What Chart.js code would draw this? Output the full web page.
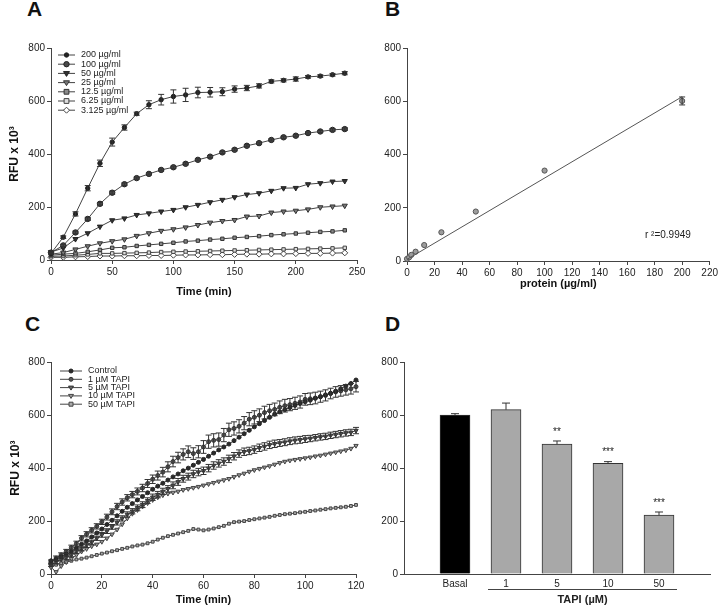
<!DOCTYPE html>
<html>
<head>
<meta charset="utf-8">
<script src="https://cdn.jsdelivr.net/npm/chart.js@4.4.0/dist/chart.umd.min.js"></script>
<style>
  html, body { margin: 0; padding: 0; background: #fff; width: 720px; height: 608px; overflow: hidden; }
  canvas { position: absolute; left: 0; top: 0; }
  .tag { position: absolute; font: bold 21px "Liberation Sans", Arial, sans-serif; color: #111; }
</style>
</head>
<body>
<div class="tag" style="left:27px;top:-3px">A</div>
<div class="tag" style="left:385px;top:-3px">B</div>
<div class="tag" style="left:25px;top:312px">C</div>
<div class="tag" style="left:385px;top:312px">D</div>
<canvas id="panelA" width="720" height="608"></canvas>
<canvas id="panelB" width="720" height="608"></canvas>
<canvas id="panelC" width="720" height="608"></canvas>
<canvas id="panelD" width="720" height="608"></canvas>
<script>
// ---- panel A: fluorescence vs time for each protein concentration
const timeA = [0, 10, 20, 30, 40, 50, 60, 70, 80, 90, 100, 110, 120, 130, 140, 150, 160, 170, 180, 190, 200, 210, 220, 230, 240];
const conc200 = [25, 86, 174, 271, 365, 445, 500, 552, 586, 605, 617, 623, 632, 633, 635, 645, 649, 657, 674, 678, 683, 691, 694, 699, 705];
const err200 = [3, 5, 8, 10, 12, 15, 10, 6, 15, 20, 25, 25, 20, 18, 15, 12, 10, 8, 6, 6, 8, 5, 5, 5, 6];
const conc100 = [28, 55, 104, 155, 212, 254, 286, 309, 325, 340, 350, 363, 378, 390, 406, 416, 431, 441, 453, 463, 469, 479, 485, 491, 494];
const err100 = [3, 4, 5, 6, 5, 6, 5, 4, 4, 4, 4, 4, 4, 4, 4, 4, 4, 4, 4, 4, 4, 4, 4, 5, 5];
const conc50 = [30, 45, 79, 101, 126, 150, 157, 170, 176, 183, 189, 199, 208, 218, 227, 237, 247, 252, 261, 271, 272, 286, 290, 296, 298];
const conc25 = [22, 28, 40, 52, 63, 71, 78, 91, 101, 110, 116, 123, 132, 141, 147, 151, 164, 166, 179, 183, 186, 191, 199, 202, 205];
const conc12 = [18, 22, 25, 31, 38, 46, 48, 53, 57, 61, 65, 70, 73, 77, 80, 84, 87, 90, 94, 97, 100, 103, 106, 108, 112];
const conc6 = [14, 15, 18, 21, 25, 25, 26, 27, 28, 30, 31, 32, 33, 34, 35, 36, 37, 38, 39, 40, 41, 42, 43, 44, 46];
const conc3 = [10, 10, 12, 13, 15, 15, 16, 16, 17, 17, 18, 19, 19, 20, 20, 21, 22, 22, 23, 23, 24, 25, 25, 26, 27];

// ---- panel B: standard curve
const protX = [0, 1.5625, 3.125, 6.25, 12.5, 25, 50, 100, 200];
const protY = [8, 14, 23, 35, 60, 108, 186, 340, 602];
const protErr = [0, 0, 0, 0, 0, 0, 0, 0, 15];
const fitX = [0, 200];
const fitY = [6, 618];

// ---- panel C: TAPI time course
const timeC = [0, 2, 4, 6, 8, 10, 12, 14, 16, 18, 20, 22, 24, 26, 28, 30, 32, 34, 36, 38, 40, 42, 44, 46, 48, 50, 52, 54, 56, 58, 60, 62, 64, 66, 68, 70, 72, 74, 76, 78, 80, 82, 84, 86, 88, 90, 92, 94, 96, 98, 100, 102, 104, 106, 108, 110, 112, 114, 116, 118, 120];
const ctrlC = [50, 55, 65, 75, 85, 98, 112, 125, 140, 155, 170, 187, 203, 220, 237, 252, 266, 280, 293, 307, 320, 332, 343, 355, 367, 378, 390, 400, 411, 422, 433, 445, 457, 469, 480, 491, 504, 517, 530, 543, 556, 568, 580, 592, 604, 613, 621, 629, 637, 644, 651, 657, 664, 670, 677, 683, 691, 700, 710, 720, 733];
const tapi1 = [45, 60, 72, 85, 100, 115, 135, 150, 165, 180, 197, 215, 235, 255, 272, 288, 300, 312, 325, 342, 358, 372, 385, 405, 425, 440, 452, 462, 455, 462, 480, 500, 505, 508, 525, 545, 550, 558, 570, 585, 592, 600, 610, 617, 622, 630, 636, 640, 645, 650, 660, 662, 665, 670, 675, 682, 688, 692, 696, 700, 708];
const err1 = [8, 8, 8, 8, 9, 9, 10, 10, 10, 10, 10, 11, 11, 12, 12, 12, 12, 13, 14, 15, 16, 17, 18, 19, 20, 20, 21, 22, 22, 23, 24, 25, 25, 25, 25, 25, 25, 25, 25, 25, 25, 24, 24, 24, 24, 24, 24, 23, 23, 23, 22, 22, 22, 21, 21, 20, 20, 20, 20, 20, 20];
const tapi5 = [35, 45, 55, 62, 72, 85, 95, 108, 120, 135, 148, 162, 178, 195, 210, 225, 237, 250, 262, 277, 290, 300, 312, 322, 335, 348, 360, 368, 378, 385, 390, 400, 410, 418, 425, 435, 445, 455, 462, 465, 470, 477, 482, 488, 492, 495, 498, 502, 505, 507, 510, 512, 515, 518, 520, 524, 527, 530, 533, 535, 542];
const err5 = [6, 6, 6, 7, 7, 7, 8, 8, 8, 8, 9, 9, 9, 10, 10, 10, 10, 11, 11, 11, 12, 12, 12, 12, 13, 13, 13, 13, 14, 14, 14, 14, 14, 14, 14, 14, 14, 14, 14, 14, 14, 14, 14, 14, 14, 13, 13, 13, 13, 13, 13, 12, 12, 12, 12, 12, 12, 12, 12, 12, 12];
const tapi10 = [25, 8, 30, 45, 58, 72, 85, 95, 105, 112, 122, 135, 150, 168, 188, 210, 228, 242, 255, 268, 280, 290, 298, 304, 308, 312, 318, 322, 326, 330, 335, 340, 345, 350, 355, 360, 367, 374, 380, 387, 393, 398, 403, 408, 414, 420, 425, 429, 432, 435, 438, 441, 445, 448, 452, 456, 460, 464, 468, 474, 485];
const tapi50 = [30, 35, 40, 45, 50, 55, 58, 62, 67, 72, 77, 81, 86, 90, 95, 99, 104, 108, 111, 116, 122, 130, 137, 143, 148, 153, 158, 163, 170, 168, 165, 168, 172, 177, 182, 190, 196, 198, 200, 204, 207, 210, 213, 216, 220, 223, 226, 228, 230, 233, 235, 238, 240, 243, 245, 248, 250, 252, 254, 257, 261];

// ---- panel D: end point bars
const tapiLabels = ['Basal', '1', '5', '10', '50'];
const tapiMeans = [600, 620, 490, 418, 222];
const tapiErr = [5, 25, 12, 6, 12];
const tapiStars = ['', '', '**', '***', '***'];

const FONT = '"Liberation Sans", Arial, sans-serif';
Chart.defaults.font.family = FONT;
Chart.defaults.color = '#222';

const xy = (xs, ys) => xs.map((x, i) => ({ x: x, y: ys[i] }));

// draws one marker, used by the hand made legends
function marker(ctx, style, x, y, r, fill, stroke) {
  ctx.beginPath();
  if (style === 'circle') {
    ctx.arc(x, y, r, 0, Math.PI * 2);
  } else if (style === 'down') {
    ctx.moveTo(x - r, y - r * 0.6);
    ctx.lineTo(x + r, y - r * 0.6);
    ctx.lineTo(x, y + r);
    ctx.closePath();
  } else if (style === 'rect') {
    ctx.rect(x - r, y - r, r * 2, r * 2);
  } else if (style === 'diamond') {
    ctx.moveTo(x, y - r); ctx.lineTo(x + r, y); ctx.lineTo(x, y + r); ctx.lineTo(x - r, y);
    ctx.closePath();
  }
  ctx.fillStyle = fill;
  ctx.fill();
  ctx.strokeStyle = stroke;
  ctx.lineWidth = 1;
  ctx.stroke();
}

const errorBars = {
  id: 'errorBars',
  afterDatasetsDraw(chart) {
    const ctx = chart.ctx;
    chart.data.datasets.forEach((ds, i) => {
      if (!ds.errors) return;
      const meta = chart.getDatasetMeta(i);
      const ys = chart.scales[meta.yAxisID];
      ctx.save();
      ctx.strokeStyle = '#333';
      ctx.lineWidth = 1;
      meta.data.forEach((el, j) => {
        const e = ds.errors[j];
        if (!e) return;
        const v = ys.getValueForPixel(el.y);
        const top = ys.getPixelForValue(v + e);
        const bot = ds.errorUp ? el.y : ys.getPixelForValue(v - e);
        const w = ds.capWidth || 3;
        ctx.beginPath();
        ctx.moveTo(el.x, top); ctx.lineTo(el.x, bot);
        ctx.moveTo(el.x - w, top); ctx.lineTo(el.x + w, top);
        if (!ds.errorUp) { ctx.moveTo(el.x - w, bot); ctx.lineTo(el.x + w, bot); }
        ctx.stroke();
      });
      ctx.restore();
    });
  }
};
Chart.register(errorBars);

function lineLegend(x0, y0, step, len, fontSize) {
  return {
    id: 'lineLegend',
    afterDraw(chart) {
      const ctx = chart.ctx;
      ctx.save();
      let row = 0;
      chart.data.datasets.forEach(ds => {
        if (!ds.legendStyle) return;
        const y = y0 + row * step;
        ctx.strokeStyle = '#444';
        ctx.lineWidth = 1;
        ctx.beginPath();
        ctx.moveTo(x0, y); ctx.lineTo(x0 + len, y);
        ctx.stroke();
        marker(ctx, ds.legendStyle, x0 + len / 2, y, ds.pointRadius, ds.pointBackgroundColor, ds.pointBorderColor);
        ctx.fillStyle = '#222';
        ctx.font = fontSize + 'px ' + FONT;
        ctx.textBaseline = 'middle';
        ctx.fillText(ds.label, x0 + len + 6, y);
        row++;
      });
      ctx.restore();
    }
  };
}

function axis(min, max, step, size, title, titleSize) {
  return {
    type: 'linear', min: min, max: max,
    ticks: { stepSize: step, font: { size: 10 }, color: '#222', padding: 2, autoSkip: false, maxRotation: 0 },
    grid: { drawOnChartArea: false, tickLength: 4, color: '#444' },
    border: { color: '#444', width: 1 },
    title: title ? { display: true, text: title, font: { size: titleSize || 11, weight: 'bold' }, color: '#111', padding: 0 } : { display: false },
    afterFit: s => { if (s.isHorizontal()) s.height = size; else s.width = size; }
  };
}

function series(label, xs, ys, style, r, fill, stroke, errs) {
  return {
    label: label,
    data: xy(xs, ys),
    borderColor: '#444',
    borderWidth: 1,
    pointStyle: style === 'down' ? 'triangle' : style === 'diamond' ? 'rectRot' : style,
    rotation: style === 'down' ? 180 : 0,
    pointRadius: r,
    pointBackgroundColor: fill,
    pointBorderColor: stroke,
    pointBorderWidth: 1,
    legendStyle: style,
    errors: errs,
    tension: 0,
    clip: false
  };
}

const base = {
  responsive: false,
  devicePixelRatio: 1,
  animation: false,
  events: [],
  plugins: { legend: { display: false }, tooltip: { enabled: false } }
};

// ---------- A
new Chart(document.getElementById('panelA'), {
  type: 'line',
  data: {
    datasets: [
      series('200 µg/ml', timeA, conc200, 'circle', 2.2, '#222', '#222', err200),
      series('100 µg/ml', timeA, conc100, 'circle', 2.7, '#4a4a4a', '#222', err100),
      series('50 µg/ml', timeA, conc50, 'down', 3, '#333', '#222'),
      series('25 µg/ml', timeA, conc25, 'down', 3, '#777', '#333'),
      series('12.5 µg/ml', timeA, conc12, 'rect', 2.4, '#8a8a8a', '#333'),
      series('6.25 µg/ml', timeA, conc6, 'rect', 2.4, '#dcdcdc', '#444'),
      series('3.125 µg/ml', timeA, conc3, 'diamond', 3, '#fff', '#444')
    ]
  },
  options: Object.assign({}, base, {
    layout: { padding: { left: 7, top: 48, right: 363, bottom: 309.4 } },
    scales: {
      x: axis(0, 250, 50, 38.6, 'Time (min)'),
      y: axis(0, 800, 200, 44, 'RFU x 10³', 12)
    }
  }),
  plugins: [lineLegend(58, 55, 9.2, 17, 9)]
});

// ---------- B
new Chart(document.getElementById('panelB'), {
  type: 'line',
  data: {
    datasets: [
      { data: xy(fitX, fitY), borderColor: '#555', borderWidth: 1, pointRadius: 0, tension: 0, clip: false },
      { data: xy(protX, protY), showLine: false, pointRadius: 2.6, pointBackgroundColor: '#9c9c9c',
        pointBorderColor: '#555', pointBorderWidth: 1, errors: protErr, clip: false }
    ]
  },
  options: Object.assign({}, base, {
    layout: { padding: { left: 370, top: 48.3, right: 9.4, bottom: 317.4 } },
    scales: {
      x: axis(0, 220, 20, 29.6, 'protein (µg/ml)'),
      y: axis(0, 800, 200, 37)
    }
  }),
  plugins: [{
    id: 'rsq',
    afterDraw(chart) {
      const ctx = chart.ctx;
      ctx.save();
      ctx.font = '10px ' + FONT;
      ctx.fillStyle = '#222';
      ctx.textBaseline = 'middle';
      ctx.fillText('r ²=0.9949', chart.scales.x.getPixelForValue(173), chart.scales.y.getPixelForValue(98));
      ctx.restore();
    }
  }]
});

// ---------- C
new Chart(document.getElementById('panelC'), {
  type: 'line',
  data: {
    datasets: [
      series('Control', timeC, ctrlC, 'circle', 2, '#2a2a2a', '#222'),
      series('1 µM TAPI', timeC, tapi1, 'circle', 2, '#555', '#333', err1),
      series('5 µM TAPI', timeC, tapi5, 'down', 2.5, '#666', '#333', err5),
      series('10 µM TAPI', timeC, tapi10, 'down', 2.5, '#999', '#444'),
      series('50 µM TAPI', timeC, tapi50, 'rect', 2, '#aaa', '#444')
    ]
  },
  options: Object.assign({}, base, {
    layout: { padding: { left: 8.8, top: 362.3, right: 364, bottom: 1.4 } },
    scales: {
      x: axis(0, 120, 20, 32.6, 'Time (min)'),
      y: axis(0, 800, 200, 42.2, 'RFU x 10³', 12)
    }
  }),
  plugins: [lineLegend(60, 371, 8.3, 22, 9)]
});

// ---------- D
const barColors = tapiLabels.map((l, i) => i === 0 ? '#000' : '#a8a8a8');
new Chart(document.getElementById('panelD'), {
  type: 'bar',
  data: {
    labels: [''].concat(tapiLabels, ['']),
    datasets: [{
      data: [null].concat(tapiMeans, [null]),
      backgroundColor: ['#fff'].concat(barColors, ['#fff']),
      borderColor: '#333',
      borderWidth: 1,
      barThickness: 30,
      errors: [0].concat(tapiErr, [0]),
      errorUp: true,
      capWidth: 4
    }]
  },
  options: Object.assign({}, base, {
    layout: { padding: { left: 370, top: 362, right: 10, bottom: 1.4 } },
    scales: {
      x: {
        type: 'category', offset: false,
        ticks: { font: { size: 10 }, color: '#222', padding: 4, autoSkip: false, maxRotation: 0 },
        grid: { offset: false, drawOnChartArea: false, drawTicks: false, color: '#444' },
        border: { color: '#444', width: 1 },
        afterFit: s => { s.height = 32.6; }
      },
      y: axis(0, 800, 200, 34)
    }
  }),
  plugins: [{
    id: 'tapiNotes',
    afterDraw(chart) {
      const ctx = chart.ctx;
      const xs = chart.scales.x, ys = chart.scales.y;
      ctx.save();
      ctx.fillStyle = '#222';
      ctx.textAlign = 'center';
      ctx.textBaseline = 'middle';
      ctx.font = '10px ' + FONT;
      tapiStars.forEach((s, i) => {
        if (!s) return;
        ctx.fillText(s, xs.getPixelForValue(i + 1), ys.getPixelForValue(tapiMeans[i] + tapiErr[i]) - 9);
      });
      const x1 = xs.getPixelForValue(2) - 18, x2 = xs.getPixelForValue(5) + 18;
      ctx.strokeStyle = '#444';
      ctx.lineWidth = 1;
      ctx.beginPath();
      ctx.moveTo(x1, 589.5); ctx.lineTo(x2, 589.5);
      ctx.stroke();
      ctx.font = 'bold 11px ' + FONT;
      ctx.fillText('TAPI (µM)', (x1 + x2) / 2, 600);
      ctx.restore();
    }
  }]
});
</script>
</body>
</html>
